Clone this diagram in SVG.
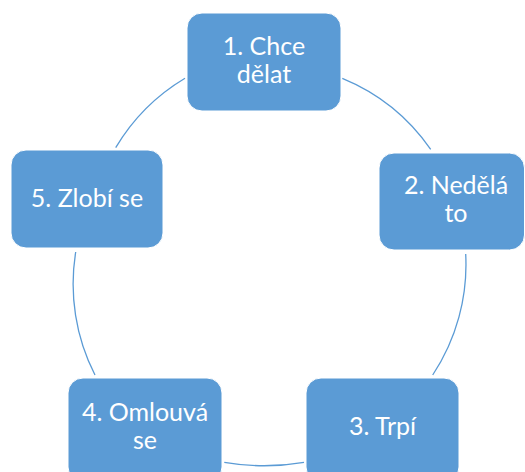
<svg xmlns="http://www.w3.org/2000/svg" width="525" height="472" viewBox="0 0 525 472">
  <style>
    .box { fill: #5B9BD5; stroke: #ffffff; stroke-width: 1; }
    .lbl { font-family: Lato, "Open Sans", "Liberation Sans", sans-serif; font-size: 25px; fill: #ffffff; text-anchor: middle; }
    .arc { fill: none; stroke: #5B9BD5; stroke-width: 1.3; }
  </style>
  <rect width="525" height="472" fill="#ffffff"/>
  <g id="connectors">
    <path class="arc" d="M342.3,78.3 A200,200 0 0 1 430.7,149.3"/>
    <path class="arc" d="M465.7,254 A200,200 0 0 1 432.7,375"/>
    <path class="arc" d="M304,462.3 A235,235 0 0 1 224.3,462.3"/>
    <path class="arc" d="M95,375 A200,200 0 0 1 75.7,252"/>
    <path class="arc" d="M115.7,147.7 A200,200 0 0 1 185,78.3"/>
  </g>
  <g id="node1">
    <rect class="box" x="187" y="13" width="154" height="98" rx="15"/>
    <text class="lbl" x="264" y="55">1. Chce</text>
    <text class="lbl" x="264" y="83">dělat</text>
  </g>
  <g id="node2">
    <rect class="box" x="379" y="153" width="145.5" height="97" rx="15"/>
    <text class="lbl" x="456" y="194">2. Nedělá</text>
    <text class="lbl" x="456" y="222">to</text>
  </g>
  <g id="node3">
    <rect class="box" x="306" y="378" width="153" height="104" rx="15"/>
    <text class="lbl" x="382.5" y="435">3. Trpí</text>
  </g>
  <g id="node4">
    <rect class="box" x="68" y="378" width="154" height="104" rx="15"/>
    <text class="lbl" x="145" y="421">4. Omlouvá</text>
    <text class="lbl" x="145" y="449">se</text>
  </g>
  <g id="node5">
    <rect class="box" x="11" y="150" width="152" height="98" rx="15"/>
    <text class="lbl" x="87" y="207">5. Zlobí se</text>
  </g>
</svg>
